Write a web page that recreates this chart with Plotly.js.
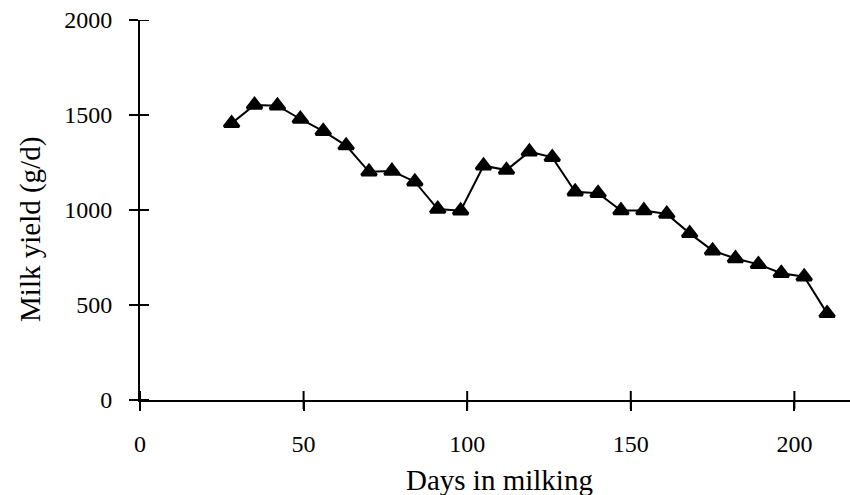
<!DOCTYPE html>
<html>
<head>
<meta charset="utf-8">
<script src="https://cdn.plot.ly/plotly-3.0.1.min.js"></script>
<style>html,body{margin:0;padding:0;background:#fff;}#chart{width:850px;height:495px;}</style>
</head>
<body>
<div id="chart"></div>
<script>
const days = [28, 35, 42, 49, 56, 63, 70, 77, 84, 91, 98, 105, 112, 119, 126, 133, 140, 147, 154, 161, 168, 175, 182, 189, 196, 203, 210];
const milkYield = [1456, 1553, 1549, 1479, 1415, 1339, 1201, 1205, 1149, 1005, 996, 1233, 1210, 1307, 1277, 1096, 1088, 997, 997, 979, 877, 786, 745, 714, 667, 649, 456];
const xTicks = [0, 50, 100, 150, 200];
const yTicks = [0, 500, 1000, 1500, 2000];
const xTitle = 'Days in milking';
const yTitle = 'Milk yield (g/d)';

const FONT = 'Liberation Serif, Times New Roman, serif';

const traces = [
  {
    x: days, y: milkYield, type: 'scatter', mode: 'lines+markers',
    line: {color: '#000', width: 2},
    marker: {symbol: 'triangle-up', size: 13, color: '#000', line: {color: '#000', width: 3}},
    cliponaxis: false, showlegend: false, hoverinfo: 'x+y'
  }
];

const common = {
  showgrid: false, zeroline: false, linecolor: '#000', linewidth: 2,
  tickcolor: '#000', tickwidth: 2, ticklen: 9, ticks: 'outside', showline: true,
  tickfont: {family: FONT, size: 24, color: '#000'}, fixedrange: true
};

// Cross-style tick marks (extend both sides of each axis), placed at the tick values
const tickStyle = {type: 'line', line: {color: '#000', width: 2}, layer: 'above'};
const crossTicks = [].concat(
  xTicks.map(v => Object.assign({}, tickStyle, {
    xref: 'x', x0: v, x1: v, yref: 'paper', ysizemode: 'pixel', yanchor: 0, y0: -9, y1: 9
  })),
  yTicks.map(v => Object.assign({}, tickStyle, {
    yref: 'y', y0: v, y1: v, xref: 'paper', xsizemode: 'pixel', xanchor: 0, x0: -9, x1: 9
  }))
);

const layout = {
  width: 850, height: 495,
  margin: {l: 140, r: 0, t: 20, b: 95},
  paper_bgcolor: '#fff', plot_bgcolor: '#fff',
  font: {family: FONT, color: '#000'},
  xaxis: Object.assign({}, common, {
    range: [0, 217], tickmode: 'array', tickvals: xTicks, ticktext: xTicks.map(String),
    ticklabelstandoff: 12
  }),
  yaxis: Object.assign({}, common, {
    range: [0, 2000], tickmode: 'array', tickvals: yTicks, ticktext: yTicks.map(String),
    ticklabelstandoff: 12
  }),
  shapes: crossTicks,
  annotations: [
    {text: xTitle, xref: 'paper', yref: 'paper', x: 0.507, y: -0.21, xanchor: 'center', yanchor: 'middle',
     showarrow: false, font: {family: FONT, size: 29, color: '#000'}},
    {text: yTitle, xref: 'paper', yref: 'paper', x: -0.155, y: 0.45, xanchor: 'center', yanchor: 'middle',
     textangle: -90, showarrow: false, font: {family: FONT, size: 29, color: '#000'}}
  ]
};

Plotly.newPlot('chart', traces, layout, {staticPlot: true, displayModeBar: false});
</script>
</body>
</html>
